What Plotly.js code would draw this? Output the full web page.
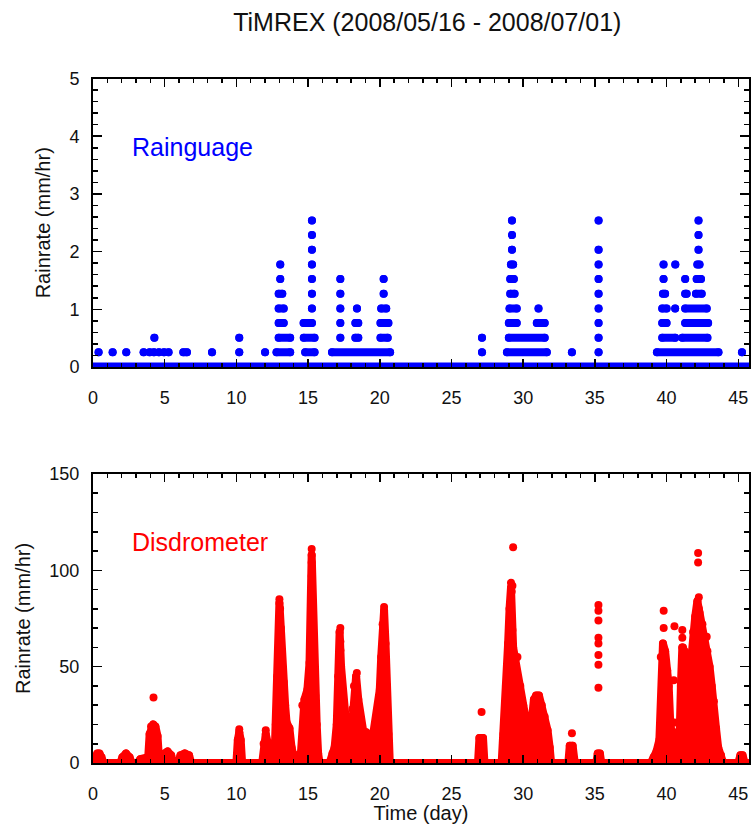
<!DOCTYPE html>
<html>
<head>
<meta charset="utf-8">
<script src="https://cdn.plot.ly/plotly-3.0.1.min.js"></script>
<style>
html,body{margin:0;padding:0;background:#fff;}
#chart{width:751px;height:824px;}
.js-line{stroke-linejoin:round !important;stroke-linecap:round !important;}
</style>
</head>
<body>
<div id="chart"></div>
<script>
// ---------------- Rain gauge (mm/hr), runs of identical readings ----------------
const gaugeStart = [
  15.27, 29.22, 35.26, 42.23,
  15.27, 29.22, 42.23,
  15.27, 29.22, 35.26, 42.23,
  13.06, 15.27, 29.15, 35.26, 39.79, 40.61, 42.15,
  13.06, 15.27, 17.25, 20.27, 29.1, 35.26, 39.79, 41.3, 42.1,
  12.95, 15.27, 17.25, 20.27, 29.1, 35.26, 39.75, 41.3, 42.05,
  12.95, 15.27, 17.25, 18.41, 20.1, 29.05, 31.07, 35.26, 39.7, 40.6, 41.3,
  12.95, 14.69, 17.25, 18.3, 20.05, 29.0, 30.95, 35.26, 39.7, 41.3,
  4.28, 10.2, 12.95, 14.7, 17.25, 18.3, 20.05, 27.13, 29.0, 35.26, 39.7, 41.1,
  0.39, 1.37, 2.32, 3.53, 3.95, 4.25, 4.6, 4.95, 5.27, 6.3, 8.3, 10.2, 12.0, 12.8, 14.8, 16.67, 27.13, 28.87, 33.4, 35.26, 39.33, 45.26
];
const gaugeEnd = [
  15.27, 29.22, 35.26, 42.23,
  15.27, 29.22, 42.23,
  15.27, 29.22, 35.26, 42.23,
  13.06, 15.27, 29.3, 35.26, 39.79, 40.61, 42.3,
  13.06, 15.27, 17.25, 20.27, 29.35, 35.26, 39.79, 41.3, 42.4,
  13.2, 15.27, 17.25, 20.27, 29.4, 35.26, 39.9, 41.4, 42.45,
  13.3, 15.27, 17.25, 18.41, 20.45, 29.55, 31.07, 35.26, 40.0, 40.6, 42.8,
  13.3, 15.27, 17.25, 18.5, 20.6, 29.55, 31.5, 35.26, 40.0, 42.9,
  4.28, 10.2, 13.75, 15.45, 17.25, 18.5, 20.55, 27.13, 31.5, 35.26, 40.6, 42.85,
  0.39, 1.37, 2.32, 3.53, 3.95, 4.25, 4.6, 4.95, 5.27, 6.55, 8.3, 10.2, 12.0, 13.75, 15.45, 20.72, 27.13, 31.65, 33.4, 35.26, 43.62, 45.26
];
const gaugeRate = [
  2.54, 2.54, 2.54, 2.54,
  2.286, 2.286, 2.286,
  2.032, 2.032, 2.032, 2.032,
  1.778, 1.778, 1.778, 1.778, 1.778, 1.778, 1.778,
  1.524, 1.524, 1.524, 1.524, 1.524, 1.524, 1.524, 1.524, 1.524,
  1.27, 1.27, 1.27, 1.27, 1.27, 1.27, 1.27, 1.27, 1.27,
  1.016, 1.016, 1.016, 1.016, 1.016, 1.016, 1.016, 1.016, 1.016, 1.016, 1.016,
  0.762, 0.762, 0.762, 0.762, 0.762, 0.762, 0.762, 0.762, 0.762, 0.762,
  0.508, 0.508, 0.508, 0.508, 0.508, 0.508, 0.508, 0.508, 0.508, 0.508, 0.508, 0.508,
  0.254, 0.254, 0.254, 0.254, 0.254, 0.254, 0.254, 0.254, 0.254, 0.254, 0.254, 0.254, 0.254, 0.254, 0.254, 0.254, 0.254, 0.254, 0.254, 0.254, 0.254, 0.254
];
const gaugeZeroDays = [0, 45.75];
const gaugeZeroRate = [0, 0];

// ---------------- Disdrometer (mm/hr): upper envelope of dense readings ----------------
const disdroDays = [
  0, 0.15, 0.3, 0.45, 0.6, 0.75,
  1.9, 2.05, 2.3, 2.55, 2.7,
  3.1, 3.3, 3.6, 3.85, 3.95, 4.05, 4.2, 4.35, 4.5, 4.62,
  4.85, 5.0, 5.2, 5.45, 5.6,
  5.95, 6.1, 6.4, 6.7, 6.85,
  10.0, 10.1, 10.2, 10.3, 10.4,
  11.8, 11.9, 12.05, 12.2, 12.3,
  12.65, 12.75, 12.85, 13.0, 13.1, 13.2, 13.3, 13.4, 13.5, 13.7, 13.85, 14.0, 14.15, 14.35, 14.5,
  14.6, 14.75, 14.95, 15.1, 15.25, 15.4, 15.5, 15.6, 15.7, 15.8,
  16.5, 16.7, 16.85, 17.0, 17.1, 17.2, 17.3, 17.45, 17.6, 17.75, 17.95,
  18.1, 18.2, 18.35, 18.5, 18.7, 18.9, 19.05, 19.2, 19.4, 19.55, 19.7, 19.85,
  20.0, 20.1, 20.2, 20.3, 20.4, 20.5, 20.6, 20.7,
  26.85, 26.95, 27.2, 27.3,
  28.5, 28.63, 28.8, 28.95, 29.05, 29.15, 29.3, 29.45, 29.6, 29.8, 30.0, 30.2, 30.4,
  30.6, 30.75, 30.9, 31.1, 31.3, 31.5, 31.7, 31.85, 31.95,
  33.15, 33.25, 33.45, 33.6,
  35.1, 35.2, 35.35, 35.45,
  38.9, 39.1, 39.3, 39.5, 39.6, 39.75, 39.9, 40.05, 40.15, 40.25, 40.35, 40.5, 40.7, 40.9,
  41.0, 41.1, 41.25, 41.4, 41.55, 41.7, 41.85, 42.0, 42.15, 42.3, 42.5, 42.7, 42.85,
  43.0, 43.15, 43.3, 43.45, 43.6, 43.8, 43.95,
  45.0, 45.15, 45.3, 45.45, 46
];
const disdroRate = [
  0, 3, 5, 5, 3, 0,
  0, 3, 5, 3, 0,
  0, 2, 2, 3, 15, 19, 20, 19, 14, 0,
  0, 5, 6, 4, 0,
  0, 4, 5, 4, 0,
  0, 12, 16, 12, 0,
  0, 10, 15, 10, 0,
  0, 20, 45, 83, 70, 50, 42, 30, 21, 18, 8, 3, 4, 2, 5,
  30, 33, 38, 52, 108, 52, 35, 20, 5, 0,
  0, 5, 8, 20, 45, 68, 50, 33, 14, 12, 8,
  28, 40, 45, 33, 20, 14, 16, 14, 8, 15, 20, 25,
  38, 55, 72, 79, 62, 40, 15, 0,
  0, 13, 13, 0,
  0, 15, 40, 62, 80, 91, 60, 54, 45, 40, 30, 22, 20,
  22, 33, 35, 35, 30, 24, 17, 8, 0,
  0, 9, 9, 0,
  0, 5, 5, 0,
  0, 3, 6, 12, 55, 62, 58, 48, 40, 22, 8, 5, 5, 10,
  40, 60, 58, 50, 48, 52, 68, 76, 84, 78, 72, 65, 58,
  50, 40, 32, 18, 8, 4, 0,
  0, 4, 4, 0, 0
];
// isolated high readings standing above the dense envelope
const disdroPeakDays = [
  4.22, 10.2, 12.05, 13.0, 13.05, 15.25, 15.25, 15.25, 17.25, 17.25, 17.25, 18.4, 18.4, 20.3,
  27.1, 29.3, 29.15, 29.25, 29.2, 29.1, 29.1, 29.25, 29.6, 33.4,
  35.25, 35.25, 35.25, 35.25, 35.25, 35.25, 35.25, 35.25,
  39.8, 39.8, 40.55, 40.5, 40.55, 40.55, 41.1, 41.1, 41.15, 42.2, 42.2, 42.25, 42.25, 42.8
];
const disdroPeakRate = [
  34, 17.5, 17, 85, 80, 111, 104, 97, 70, 63, 58.5, 46.7, 38, 81,
  26.5, 112, 93.5, 92, 89, 82, 78.5, 69, 55, 15.5,
  82, 79, 74, 65, 62, 56, 51, 39,
  79, 70, 71, 43, 21, 16, 69, 65, 60, 109, 104, 86, 80, 65.5
];

// ---------------- text ----------------
const chartTitle = 'TiMREX (2008/05/16 - 2008/07/01)';
const xTitle = 'Time (day)';
const yTitle = 'Rainrate (mm/hr)';
const gaugeLabel = 'Rainguage';
const disdroLabel = 'Disdrometer';

// ---------------- build traces ----------------
const BLUE = '#0000ff', RED = '#ff0000';
const gx = [], gy = [];
for (let i = 0; i < gaugeStart.length; i++) {
  gx.push(gaugeStart[i], gaugeEnd[i], null);
  gy.push(gaugeRate[i], gaugeRate[i], null);
}

const traces = [
  {x: gaugeZeroDays, y: gaugeZeroRate, xaxis: 'x', yaxis: 'y', mode: 'lines',
   line: {color: BLUE, width: 9}, hoverinfo: 'skip'},
  {x: gx, y: gy, xaxis: 'x', yaxis: 'y', mode: 'lines+markers', connectgaps: false,
   line: {color: BLUE, width: 8}, marker: {color: BLUE, size: 8}},
  {x: disdroDays, y: disdroRate, xaxis: 'x2', yaxis: 'y2', mode: 'lines+markers', fill: 'tozeroy',
   fillcolor: RED, line: {color: RED, width: 8}, marker: {color: RED, size: 8}, cliponaxis: true},
  {x: disdroPeakDays, y: disdroPeakRate, xaxis: 'x2', yaxis: 'y2', mode: 'markers',
   marker: {color: RED, size: 8}}
];

const FONT = 'Liberation Sans, Arial, Helvetica, sans-serif';
function xAx(anchor, withTitle) {
  const a = {
    anchor: anchor, domain: [0, 1], range: [0, 45.75], tick0: 0, dtick: 5,
    ticks: 'inside', ticklen: 8, tickwidth: 1.5, tickcolor: '#000',
    showline: true, linewidth: 2, linecolor: '#000', mirror: 'allticks',
    showgrid: false, zeroline: false,
    minor: {dtick: 1, ticks: 'inside', ticklen: 4, tickwidth: 1.5, tickcolor: '#000', showgrid: false},
    tickfont: {family: FONT, size: 18, color: '#111'}, ticklabelstandoff: 13
  };
  if (withTitle) a.title = {text: xTitle, font: {family: FONT, size: 20, color: '#111'}, standoff: 2};
  return a;
}
function yAx(anchor, dom, rng, dt, mdt) {
  return {
    anchor: anchor, domain: dom, range: rng, tick0: 0, dtick: dt,
    ticks: 'inside', ticklen: 9, tickwidth: 1.5, tickcolor: '#000',
    showline: true, linewidth: 2, linecolor: '#000', mirror: 'allticks',
    showgrid: false, zeroline: false,
    minor: {dtick: mdt, ticks: 'inside', ticklen: 5, tickwidth: 1.5, tickcolor: '#000', showgrid: false},
    tickfont: {family: FONT, size: 18, color: '#111'}, ticklabelstandoff: 8,
    title: {text: yTitle, font: {family: FONT, size: 20, color: '#111'}, standoff: 13}
  };
}

const layout = {
  width: 751, height: 824,
  margin: {l: 93, r: 2, t: 0, b: 0},
  paper_bgcolor: '#fff', plot_bgcolor: '#fff',
  showlegend: false,
  font: {family: FONT, color: '#111'},
  title: {text: chartTitle, x: 0.569, xanchor: 'center', xref: 'container',
          y: 0.973, yanchor: 'middle', yref: 'container',
          font: {family: FONT, size: 25, color: '#111'}},
  xaxis: xAx('y', false),
  xaxis2: xAx('y2', true),
  yaxis: yAx('x', [0.5546, 0.9047], [0, 5], 1, 0.2),
  yaxis2: yAx('x2', [0.0740, 0.4248], [0, 150], 50, 10),
  annotations: [
    {xref: 'x', yref: 'y', x: 2.58, y: 3.81, xanchor: 'left', yanchor: 'middle',
     text: gaugeLabel, showarrow: false, font: {family: FONT, size: 25, color: BLUE}},
    {xref: 'x2', yref: 'y2', x: 2.58, y: 114.7, xanchor: 'left', yanchor: 'middle',
     text: disdroLabel, showarrow: false, font: {family: FONT, size: 25, color: RED}}
  ]
};

Plotly.newPlot('chart', traces, layout, {staticPlot: true, displayModeBar: false});
</script>
</body>
</html>
